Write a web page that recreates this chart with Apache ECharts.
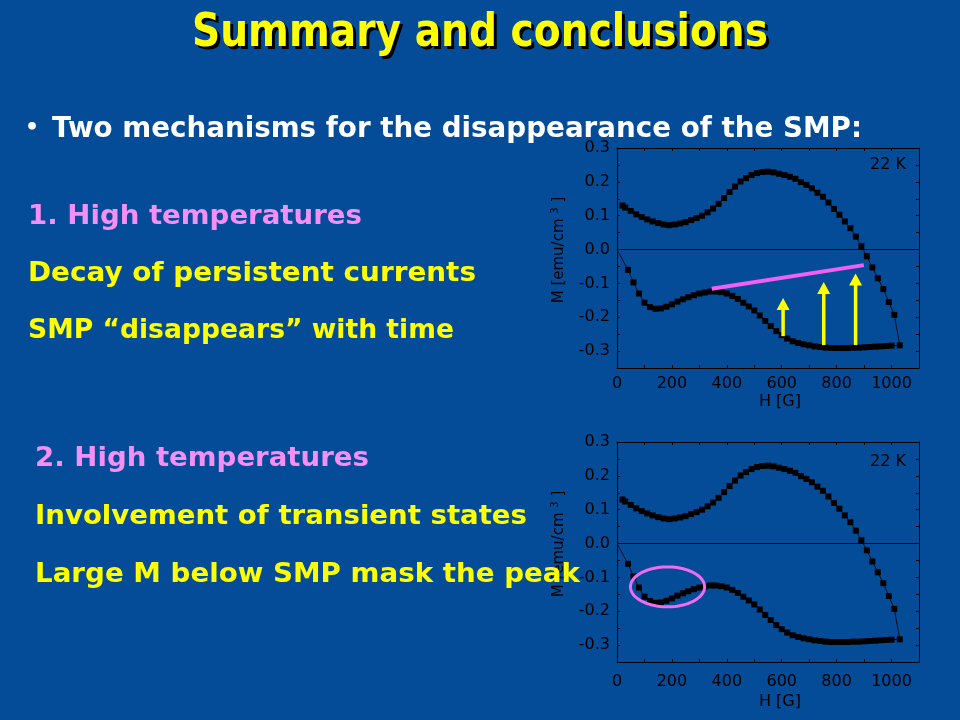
<!DOCTYPE html>
<html><head><meta charset="utf-8">
<script src="https://cdn.jsdelivr.net/npm/echarts@6/dist/echarts.min.js"></script>
<style>html,body{margin:0;padding:0;background:#054c98;}#c{width:960px;height:720px;}</style>
</head><body><div id="c"></div>
<script>
// ---- data (H in G, M in emu/cm^3) ----
const lowerH = [0,40,60,80,100,120,140,160,180,200,220,240,260,280,300,320,340,360,380,400,420,440,460,480,500,520,540,560,580,600,620,640,660,680,700,720,740,760,780,800,820,840,860,880,900,920,940,960,980,1000,1030];
const lowerM = [0,-0.060,-0.097,-0.130,-0.157,-0.170,-0.175,-0.174,-0.169,-0.162,-0.154,-0.147,-0.141,-0.135,-0.130,-0.127,-0.124,-0.124,-0.126,-0.130,-0.137,-0.146,-0.157,-0.168,-0.180,-0.195,-0.211,-0.226,-0.241,-0.253,-0.263,-0.271,-0.276,-0.280,-0.283,-0.286,-0.288,-0.290,-0.291,-0.291,-0.291,-0.291,-0.290,-0.290,-0.289,-0.288,-0.287,-0.286,-0.285,-0.284,-0.283];
const upperH = [1010,990,970,950,930,910,890,870,850,830,810,790,770,750,730,710,690,670,650,630,610,590,570,550,530,510,490,470,450,430,410,390,370,350,330,310,290,270,250,230,210,190,170,150,130,110,90,70,50,30,20];
const upperM = [-0.193,-0.155,-0.117,-0.085,-0.053,-0.020,0.010,0.038,0.063,0.083,0.103,0.120,0.139,0.156,0.168,0.181,0.191,0.199,0.209,0.215,0.220,0.224,0.228,0.230,0.229,0.226,0.220,0.211,0.201,0.186,0.170,0.152,0.135,0.121,0.110,0.100,0.093,0.087,0.081,0.077,0.074,0.072,0.074,0.078,0.083,0.089,0.096,0.104,0.114,0.124,0.130];
const xTickLabels = [0,200,400,600,800,1000];
const yTickLabels = [-0.3,-0.2,-0.1,0.0,0.1,0.2,0.3];
const pinkH = [345,899];
const pinkM = [-0.116,-0.046];
const arrowH = [605,753,869];
const arrowBase = [-0.256,-0.282,-0.282];
const arrowTip = [-0.143,-0.096,-0.071];
const ellipseCenter = [184,-0.128];
const ellipseRadius = [135,0.059];
const tempLabel = '22 K';

// ---- layout ----
const BG = '#054c98';
const grids = [
  {left:617, top:148, width:302, height:220},
  {left:617, top:442, width:302, height:220}
];
const labelFont = 'DejaVu Sans';
function loopData(){
  const d = [];
  lowerH.forEach((h,i)=>d.push(i===0 ? {value:[h,lowerM[i]], symbol:'none'} : [h,lowerM[i]]));
  upperH.forEach((h,i)=>d.push([h,upperM[i]]));
  return d;
}
const xAxes = [], yAxes = [];
const xLabMargin = [8, 12], xNameGap = [26, 32];
grids.forEach((g,gi)=>{
  const common = {gridIndex:gi, type:'value', min:0, max:1100, interval:100,
    axisLine:{show:true, onZero:false, lineStyle:{color:'#000', width:1}},
    axisTick:{show:true, inside:true, length:3, lineStyle:{color:'#000'}},
    splitLine:{show:false}};
  xAxes.push(Object.assign({}, common, {position:'bottom',
    name:'H [G]', nameLocation:'middle', nameGap:xNameGap[gi],
    nameTextStyle:{color:'#000', fontFamily:labelFont, fontSize:16, padding:[0,0,0,24]},
    axisLabel:{show:true, color:'#000', fontFamily:labelFont, fontSize:16, margin:xLabMargin[gi],
      formatter:v=>xTickLabels.indexOf(v)>=0 ? String(v) : ''}}));
  xAxes.push(Object.assign({}, common, {position:'top', axisLabel:{show:false}}));
  const ycommon = {gridIndex:gi, type:'value', min:-0.35, max:0.3, interval:0.05,
    axisLine:{show:true, onZero:false, lineStyle:{color:'#000', width:1}},
    axisTick:{show:true, inside:true, length:3, lineStyle:{color:'#000'}},
    splitLine:{show:false}};
  yAxes.push(Object.assign({}, ycommon, {position:'left',
    name:'M [emu/cm {sup|3} ]', nameLocation:'middle', nameGap:48, nameRotate:90,
    nameTextStyle:{color:'#000', fontFamily:labelFont, fontSize:15, padding:[0,0,0,16],
      rich:{sup:{fontSize:10, color:'#000', fontFamily:labelFont, padding:[0,0,9,0]}}},
    axisLabel:{show:true, color:'#000', fontFamily:labelFont, fontSize:16, margin:7,
      formatter:v=>{const k=Math.round(v*100); return (k%10===0 && yTickLabels.indexOf(k/100)>=0) ? (k/100).toFixed(1) : '';}}}));
  yAxes.push(Object.assign({}, ycommon, {position:'right', axisLabel:{show:false}}));
});

const series = [];
grids.forEach((g,gi)=>{
  series.push({type:'line', xAxisIndex:2*gi, yAxisIndex:2*gi, data:loopData(),
    symbol:'rect', symbolSize:6, showSymbol:true, showAllSymbol:true,
    lineStyle:{color:'#000', width:0.8}, itemStyle:{color:'#000'},
    z:3, silent:true,
    markLine:{silent:true, symbol:['none','none'], label:{show:false},
      lineStyle:{color:'#000', type:'solid', width:1}, data:[{yAxis:0}]}});
});
series.push({type:'line', xAxisIndex:0, yAxisIndex:0, data:pinkH.map((h,i)=>[h,pinkM[i]]),
  symbol:'none', lineStyle:{color:'#f45ef4', width:4}, z:4, silent:true});
series.push({type:'custom', xAxisIndex:0, yAxisIndex:0, z:5, silent:true,
  encode:{x:0, y:[1,2]},
  data:arrowH.map((h,i)=>[h,arrowBase[i],arrowTip[i]]),
  renderItem:(params, api)=>{
    const x=api.value(0), b=api.value(1), t=api.value(2);
    const p0=api.coord([x,b]), p1=api.coord([x,t]);
    const hh=12, hw=6.5;
    return {type:'group', children:[
      {type:'line', shape:{x1:p0[0], y1:p0[1], x2:p1[0], y2:p1[1]+hh-1}, style:{stroke:'#ffff00', lineWidth:3.5}},
      {type:'polygon', shape:{points:[[p1[0],p1[1]],[p1[0]-hw,p1[1]+hh],[p1[0]+hw,p1[1]+hh]]}, style:{fill:'#ffff00'}}
    ]};
  }});
series.push({type:'custom', xAxisIndex:2, yAxisIndex:2, z:5, silent:true,
  data:[[ellipseCenter[0], ellipseCenter[1], ellipseRadius[0], ellipseRadius[1]]],
  renderItem:(params, api)=>{
    const c=api.coord([api.value(0), api.value(1)]);
    const s=api.size([api.value(2), api.value(3)]);
    const pts=[];
    for(let k=0;k<96;k++){const a=k/96*Math.PI*2; pts.push([c[0]+s[0]*Math.cos(a), c[1]+s[1]*Math.sin(a)]);}
    return {type:'polygon', shape:{points:pts}, style:{fill:'none', stroke:'#f06cf0', lineWidth:3}};
  }});

// ---- texts ----
const mctx = document.createElement('canvas').getContext('2d');
function fitText(str, size, left, right, cy, color, opts){
  const font = 'bold ' + size + 'px "DejaVu Sans"';
  mctx.font = font;
  const w = mctx.measureText(str).width;
  const sx = (right-left)/w;
  return Object.assign({type:'text', x:left, y:cy, scaleX:sx, scaleY:1, z:100, silent:true,
    style:{text:str, x:0, y:0, fill:color, font:font, textAlign:'left', align:'left', textVerticalAlign:'middle', verticalAlign:'middle'}}, opts||{});
}
const YEL = '#ffff00', PINK = '#f58ff5', WHITE = '#ffffff';
const graphics = [
  fitText('Summary and conclusions', 47, 195, 771, 37, '#000', {z:99}),
  fitText('Summary and conclusions', 47, 192, 768, 34, YEL),
  {type:'text', x:25, y:128, z:100, style:{text:'•', fill:WHITE, font:'bold 22px "DejaVu Sans"', textAlign:'left', align:'left', textVerticalAlign:'middle', verticalAlign:'middle'}},
  fitText('Two mechanisms for the disappearance of the SMP:', 28, 52, 862, 130, WHITE),
  fitText('1. High temperatures', 27, 28, 362, 217, PINK),
  fitText('Decay of persistent currents', 27, 28, 476, 274, YEL),
  fitText('SMP \u201cdisappears\u201d with time', 27, 28, 454, 331, YEL),
  fitText('2. High temperatures', 27, 35, 369, 459, PINK),
  fitText('Involvement of transient states', 27, 35, 527, 517, YEL),
  fitText('Large M below SMP mask the peak', 27, 35, 580, 575, YEL),
  {type:'text', x:888, y:165, z:50, style:{text:tempLabel, fill:'#000', font:'16px "DejaVu Sans"', textAlign:'center', align:'center', textVerticalAlign:'middle', verticalAlign:'middle'}},
  {type:'text', x:888, y:462, z:50, style:{text:tempLabel, fill:'#000', font:'16px "DejaVu Sans"', textAlign:'center', align:'center', textVerticalAlign:'middle', verticalAlign:'middle'}}
];

const chart = echarts.init(document.getElementById('c'), null, {renderer:'canvas'});
chart.setOption({
  backgroundColor: BG,
  animation:false,
  grid: grids,
  xAxis: xAxes,
  yAxis: yAxes,
  series: series,
  graphic: graphics
});
</script></body></html>
